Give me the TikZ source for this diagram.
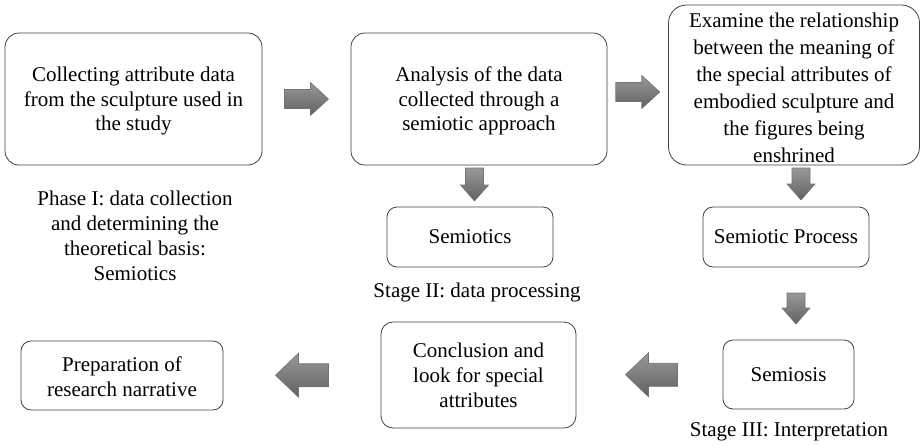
\documentclass[tikz,border=0pt]{standalone}
\usepackage{fontspec}
\setmainfont{Liberation Serif}
\usetikzlibrary{calc}

% gray block arrow: #1 centre, #2 rotation, #3 length, #4 shaft width, #5 head width, #6 head length
\newcommand\grayarrow[6]{%
  \begin{scope}[shift={#1}, rotate=#2]
    \path[blockarrow]
      ({-(#3)/2},{-(#4)/2}) -- ({(#3)/2-(#6)},{-(#4)/2}) -- ({(#3)/2-(#6)},{-(#5)/2})
      -- ({(#3)/2},0) -- ({(#3)/2-(#6)},{(#5)/2}) -- ({(#3)/2-(#6)},{(#4)/2})
      -- ({-(#3)/2},{(#4)/2}) -- cycle;
  \end{scope}}
% invisible strut that lowers a text block a little inside its box
\newcommand\padtop[1]{\rule{0pt}{#1}}

\tikzset{
  stepbox/.style={draw=black!75, line width=0.8pt, rounded corners=#1, align=center,
    inner sep=1pt, font=\fontsize{21}{25}\selectfont},
  stepbox/.default=14pt,
  caption/.style={align=center, font=\fontsize{21}{25}\selectfont},
  blockarrow/.style={draw=black!55, line width=0.6pt, top color=black!40, bottom color=black!62},
}

\begin{document}
\begin{tikzpicture}[x=1pt, y=-1pt]
  \useasboundingbox (0,0) rectangle (921,445);

  % top row
  \node[stepbox, minimum width=257pt, minimum height=132pt, font=\fontsize{21}{24.5}\selectfont] (collect) at (133.5,99)
    {\padtop{19pt}Collecting attribute data\\from the sculpture used in\\the study};
  \node[stepbox, minimum width=256pt, minimum height=132pt, font=\fontsize{21}{24.5}\selectfont] (analysis) at (479,99)
    {\padtop{19pt}Analysis of the data\\collected through a\\semiotic approach};
  \node[stepbox=18pt, minimum width=251pt, minimum height=160pt, font=\fontsize{21}{27}\selectfont] (examine) at (794,85)
    {\padtop{21pt}Examine the relationship\\between the meaning of\\the special attributes of\\embodied sculpture and\\the figures being\\enshrined};

  % middle row
  \node[stepbox=10pt, minimum width=166pt, minimum height=60pt] (semiotics) at (470,237) {Semiotics};
  \node[stepbox=10pt, minimum width=166pt, minimum height=60pt] (process) at (786,237) {Semiotic Process};

  % bottom row
  \node[stepbox=10pt, minimum width=131pt, minimum height=69pt] (semiosis) at (788.5,374.5) {Semiosis};
  \node[stepbox=12pt, minimum width=195pt, minimum height=106pt] (conclusion) at (478.5,375)
    {Conclusion and\\look for special\\attributes};
  \node[stepbox=10pt, minimum width=202pt, minimum height=69pt] (narrative) at (122,375.5)
    {\padtop{18pt}Preparation of\\research narrative};

  % stage captions
  \node[caption] (phase1) at (135,235.5) {Phase I: data collection\\and determining the\\theoretical basis:\\Semiotics};
  \node[caption] (stage2) at (477,292) {Stage II: data processing};
  \node[caption] (stage3) at (789,432) {Stage III: Interpretation};

  % flow arrows between the steps
  \grayarrow{($(collect.east)!0.5!(analysis.west)$)}{0}{44}{19}{33}{18}
  \grayarrow{($(analysis.east)!0.5!(examine.west)$)}{0}{44}{19}{33}{18}
  \grayarrow{($(analysis.south)!0.5!(semiotics.north)+(0,-1.5)$)}{-90}{33}{18}{28}{16}
  \grayarrow{(801,184)}{-90}{32}{18}{28}{16}
  \grayarrow{(796,308.5)}{-90}{31}{18}{28}{16}
  \grayarrow{($(conclusion.east)!0.5!(semiosis.west)+(2,0)$)}{180}{52}{23}{44}{23}
  \grayarrow{($(narrative.east)!0.5!(conclusion.west)$)}{180}{53}{23}{44}{23}
\end{tikzpicture}
\end{document}
